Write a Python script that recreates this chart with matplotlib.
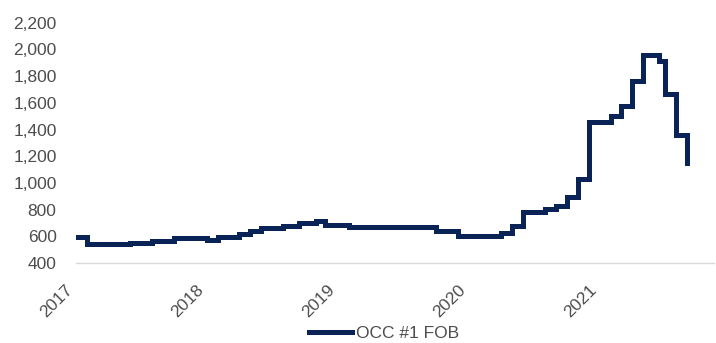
import matplotlib
matplotlib.use("Agg")
import matplotlib.pyplot as plt
from matplotlib.ticker import FuncFormatter
import pandas as pd

# OCC #1 FOB price, step changes (date the new price takes effect)
change_dates = [
    "2017-01-01", "2017-02-01", "2017-06-01", "2017-08-01", "2017-10-01",
    "2018-01-01", "2018-02-01", "2018-04-01", "2018-05-01", "2018-06-01",
    "2018-08-01", "2018-09-15", "2018-11-01", "2018-11-25", "2019-02-01",
    "2019-10-01", "2019-12-01", "2020-04-01", "2020-05-01", "2020-06-01",
    "2020-08-01", "2020-09-01", "2020-10-01", "2020-11-01", "2020-12-01",
    "2021-02-01", "2021-03-01", "2021-04-01", "2021-05-01", "2021-06-15",
    "2021-07-01", "2021-08-01", "2021-09-01",
]
prices = [
    595, 540, 552, 567, 590,
    572, 592, 615, 640, 660,
    680, 697, 715, 685, 667,
    642, 602, 627, 677, 785,
    802, 827, 897, 1027, 1459,
    1501, 1576, 1763, 1958, 1915,
    1665, 1360, 1150,
]
series_name = "OCC #1 FOB"
year_ticks = ["2017", "2018", "2019", "2020", "2021"]
y_ticks = [400, 600, 800, 1000, 1200, 1400, 1600, 1800, 2000, 2200]

dates = pd.to_datetime(change_dates)
text_color = "#4d4d4d"
line_color = "#0a2357"

plt.rcParams["font.family"] = ["Liberation Sans", "DejaVu Sans"]

fig = plt.figure(figsize=(7.16, 3.43), dpi=100)
ax = fig.add_axes([76 / 716, 1 - 263 / 343, (714 - 76) / 716, (263 - 22.7) / 343])

ax.step(dates, prices, where="post", color=line_color, lw=3.6,
        solid_joinstyle="miter", label=series_name)

ax.set_ylim(400, 2200)
ax.set_yticks(y_ticks)
ax.yaxis.set_major_formatter(FuncFormatter(lambda v, p: f"{int(v):,}"))
ax.set_xlim(pd.Timestamp("2017-01-01"), pd.Timestamp("2021-11-15"))
ax.set_xticks(pd.to_datetime([y + "-01-01" for y in year_ticks]))
ax.set_xticklabels(year_ticks, rotation=45, ha="right")

for side in ["left", "right", "top"]:
    ax.spines[side].set_visible(False)
ax.spines["bottom"].set_color("#d9d9d9")
ax.spines["bottom"].set_linewidth(1.0)

ax.tick_params(axis="both", length=0, labelsize=12.5, colors=text_color)
ax.tick_params(axis="y", pad=14)
ax.tick_params(axis="x", pad=14)

fig.legend(loc="center", bbox_to_anchor=(384 / 716, 1 - 333 / 343),
           frameon=False, fontsize=12.5, handlelength=2.5, handletextpad=0.2,
           labelcolor=text_color)

fig.savefig("out.png", dpi=100)
